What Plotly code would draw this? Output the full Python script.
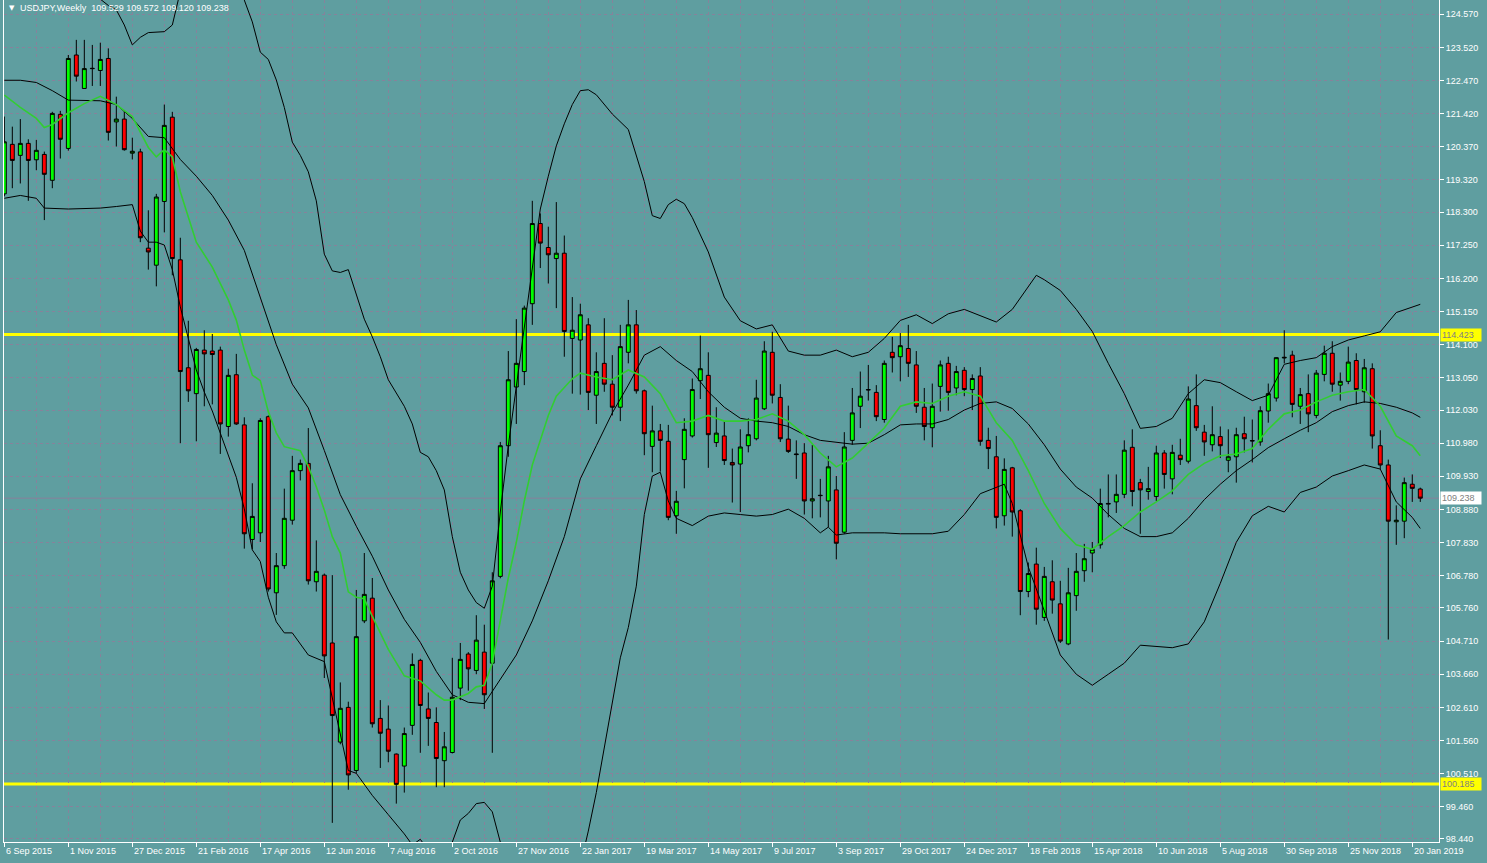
import pandas as pd
import plotly.graph_objects as go

# ---------------- data ----------------
title_text = "USDJPY,Weekly  109.529 109.572 109.120 109.238"
start_week = "2015-09-06"

opens = [118.88,120.45,120.10,120.48,119.96,120.13,119.31,121.40,120.32,123.28,
         122.22,122.86,122.79,123.17,121.16,121.25,120.17,120.21,117.16,116.62,
         118.64,121.31,116.79,113.37,112.55,113.93,113.90,113.93,111.51,113.15,
         111.56,107.93,108.14,111.82,106.24,107.10,108.54,110.11,110.34,106.59,
         106.80,104.65,101.51,102.61,100.61,105.35,106.07,102.26,101.92,101.13,
         100.75,102.04,104.10,102.56,102.13,100.92,101.18,103.22,104.30,103.78,
         104.36,104.01,106.76,110.90,112.76,113.25,115.40,117.94,117.18,116.83,
         117.00,114.30,114.25,114.73,112.50,113.51,112.85,112.12,113.86,114.73,
         112.64,110.88,111.37,111.04,108.68,110.46,111.21,112.96,113.13,111.00,
         111.21,110.37,110.32,110.90,111.12,112.07,113.86,112.43,111.11,110.64,
         110.67,109.15,109.33,109.15,109.50,108.16,111.07,112.15,112.68,112.59,
         111.73,113.86,113.72,113.98,113.46,112.12,111.47,112.78,113.51,112.73,
         113.29,112.68,113.11,111.07,110.55,108.68,110.20,108.84,106.28,107.15,
         105.46,106.59,105.89,104.62,106.15,106.94,107.50,107.76,109.05,109.12,
         109.36,110.85,109.73,109.45,109.29,110.67,109.85,110.60,110.41,112.17,
         111.33,110.93,111.19,110.44,110.55,111.28,111.05,111.02,112.00,112.41,
         113.68,113.77,112.15,112.55,111.86,113.16,113.83,112.82,112.94,113.60,
         112.61,113.34,110.90,110.29,108.49,108.51,109.68,109.529]

highs = [121.33,121.01,121.25,120.61,120.59,120.22,121.48,121.51,123.28,123.76,
         123.76,123.60,123.67,123.49,121.96,121.51,120.66,120.31,118.36,118.88,
         121.71,121.48,117.49,114.86,114.00,114.56,114.44,114.04,113.34,113.81,
         111.80,109.71,111.77,111.86,107.50,109.54,110.58,110.46,111.46,107.90,
         106.85,106.80,103.40,102.79,106.33,107.50,106.71,102.84,102.67,101.15,
         101.97,104.32,104.15,103.08,102.61,101.83,104.18,104.65,104.36,105.53,
         105.23,106.89,111.02,113.90,114.91,115.34,118.66,118.26,117.84,118.62,
         117.56,115.61,115.40,114.94,113.86,114.94,113.77,114.73,115.52,115.20,
         112.68,112.17,111.59,111.56,109.47,111.77,113.03,114.39,113.86,112.12,
         111.68,110.81,111.42,111.77,112.99,114.21,114.51,112.85,112.17,111.07,
         110.98,110.93,109.85,110.58,109.94,111.33,112.73,113.25,113.46,112.82,
         113.60,114.35,114.47,114.73,113.90,112.73,112.87,113.60,113.72,113.43,
         113.39,113.16,113.39,111.47,111.21,110.50,110.23,108.89,107.20,107.67,
         107.06,107.27,106.62,107.03,107.50,107.79,107.85,109.54,109.99,109.99,
         111.07,111.42,109.85,110.23,110.90,110.76,110.93,111.12,112.78,113.16,
         111.56,112.15,111.51,111.42,111.47,111.82,111.73,112.15,112.87,113.70,
         114.56,113.91,112.73,113.16,113.30,114.07,114.21,113.22,114.04,113.83,
         113.65,113.51,111.39,110.46,109.01,109.89,109.99,109.572]

lows = [118.80,119.06,119.21,118.66,119.63,118.05,119.06,120.00,120.25,122.44,
        122.22,122.30,122.30,120.57,120.38,120.25,119.97,117.35,116.48,115.95,
        117.66,116.30,110.98,112.29,111.04,112.15,112.21,110.64,111.19,111.56,
        107.64,107.62,107.85,106.28,105.54,107.00,108.40,109.80,106.50,106.28,
        103.54,98.95,101.44,100.00,100.52,105.28,101.97,100.69,100.87,99.56,
        99.91,101.74,101.17,101.39,100.08,100.08,101.15,102.84,103.14,103.66,
        102.56,101.17,106.70,110.55,111.59,112.82,114.73,116.53,116.04,115.26,
        113.72,112.55,112.52,112.03,111.59,112.61,111.86,111.68,113.51,112.55,
        110.60,110.06,110.08,108.54,108.11,109.55,111.16,112.38,110.20,110.86,
        110.29,109.10,108.80,110.69,111.07,112.03,112.24,111.02,110.67,109.85,
        108.72,108.60,108.63,108.32,107.30,108.11,110.93,111.46,112.33,111.68,
        111.63,113.22,112.94,113.08,111.94,111.07,110.85,111.98,112.01,112.50,
        112.47,112.03,110.90,110.16,108.28,108.37,108.02,105.53,106.10,105.23,
        105.35,105.58,104.65,104.58,105.67,106.59,106.89,107.64,108.63,108.77,
        109.24,108.98,108.11,109.19,109.15,109.54,109.36,110.29,110.34,111.37,
        110.58,110.72,110.51,110.06,109.73,110.69,110.37,110.90,111.63,112.30,
        113.51,111.80,111.59,111.33,111.77,112.94,112.61,112.33,112.85,112.21,
        112.26,110.81,110.16,104.76,107.76,107.97,109.12,109.120]

closes = [120.53,119.94,120.48,119.94,120.26,119.50,121.43,120.61,123.17,122.61,
          122.85,122.85,123.14,120.83,121.25,120.28,120.23,117.49,117.04,118.78,
          121.05,116.83,113.25,112.64,113.95,113.81,113.79,111.59,113.13,111.59,
          108.11,108.66,111.70,106.36,107.10,108.60,110.11,110.34,106.62,106.92,
          104.24,102.35,102.58,100.47,104.85,106.19,102.09,101.79,101.22,100.17,
          101.78,103.97,102.67,102.26,100.99,101.36,102.93,104.13,103.83,104.74,
          103.01,106.62,110.90,112.99,113.51,115.26,117.94,117.32,116.95,117.00,
          114.52,114.56,115.05,112.59,113.25,112.85,112.12,114.04,114.73,112.64,
          111.28,111.37,111.07,108.63,109.14,111.42,112.68,113.34,111.25,111.30,
          110.43,110.29,110.86,111.25,112.41,113.90,112.50,111.12,110.72,110.62,
          109.15,109.22,109.32,110.23,107.81,110.86,111.94,112.47,112.67,111.82,
          113.51,113.69,114.07,113.51,112.15,111.51,112.15,113.46,112.59,113.25,
          112.68,113.03,111.04,110.81,108.63,110.15,108.80,106.28,106.85,105.72,
          106.76,106.01,104.71,106.24,106.92,107.32,107.62,109.07,109.07,109.36,
          110.76,109.45,109.50,109.54,110.67,109.99,110.69,110.46,112.38,111.47,
          111.02,111.25,110.90,110.55,111.25,111.12,111.06,112.01,112.55,113.69,
          113.70,112.21,112.52,111.91,113.20,113.83,112.85,112.94,113.55,112.68,
          113.37,111.21,110.29,108.51,108.54,109.73,109.55,109.238]

# Bollinger band upper (week index -> value)
bb_upper_weeks = [0,4,8,10,12,13,14,15,16,17,18,19,20,21,22,24,26,28,30,31,32,33,34,35,
                  36,37,38,39,40,41,42,43,44,45,46,47,48,49,50,51,52,53,54,55,56,57,58,59,60,61,
                  62,63,64,65,66,67,68,69,70,71,72,73,74,76,78,80,81,82,83,84,85,86,88,90,92,94,96,98,
                  100,102,104,106,108,110,112,114,116,118,120,122,124,126,128,129,130,132,134,136,
                  138,140,142,144,146,148,150,152,154,156,158,160,162,164,166,168,170,172,174,176,177]
bb_upper = [126.2,126.1,125.6,125.4,125.05,124.85,124.71,124.23,123.60,123.84,123.99,124.00,124.02,124.23,125.3,125.9,125.9,125.6,125.02,124.33,123.37,123.14,122.49,121.62,
            120.52,120.10,119.58,118.66,116.97,116.44,116.39,116.48,115.69,114.91,114.35,113.72,112.99,112.55,112.15,111.59,110.69,110.55,110.11,109.50,108.02,106.89,106.33,105.93,105.75,106.45,
            108.80,110.90,112.82,114.56,116.65,118.40,119.44,120.40,121.10,121.71,122.15,122.18,122.02,121.41,120.92,119.27,118.19,118.10,118.54,118.71,118.57,118.13,117.04,115.61,114.86,114.60,114.73,113.90,
            113.77,113.77,113.93,113.72,113.86,114.30,114.87,115.05,114.77,115.08,115.22,115.03,114.82,115.22,115.95,116.30,116.16,115.82,115.22,114.52,
            113.51,112.55,111.45,111.51,111.77,112.55,112.99,112.90,112.61,112.33,112.50,113.48,113.60,113.69,114.04,114.25,114.38,114.51,115.12,115.29,115.38]

# Bollinger band middle
bb_mid_weeks = list(range(0, 177, 2)) + [177]
bb_mid = [122.48,122.48,122.41,122.15,121.85,121.85,121.83,121.71,121.27,120.70,
          120.66,119.97,119.44,118.83,118.05,117.09,115.61,114.10,112.85,112.10,
          110.75,109.35,108.35,107.40,106.33,105.40,104.67,103.75,103.01,102.77,
          102.73,103.49,104.27,105.35,106.62,108.02,109.85,110.90,111.94,112.82,
          113.77,114.04,113.60,113.25,112.61,112.12,111.77,111.68,111.63,111.51,
          111.25,111.07,111.02,110.95,110.98,111.25,111.56,111.59,111.59,111.73,
          112.03,112.24,112.29,112.08,111.59,110.93,110.16,109.59,109.24,108.72,
          108.28,108.02,108.02,108.14,108.60,109.19,109.68,110.11,110.46,110.84,
          111.12,111.39,111.63,111.98,112.17,112.29,112.24,112.12,111.94,111.80]

# Bollinger band lower
bb_lower_weeks = [0,2,4,5,8,12,14,16,17,18,19,20,21,22,23,24,25,26,27,28,29,30,31,32,33,34,35,
                  36,38,40,42,43,44,46,48,50,51,52,53,54,55,56,57,58,59,60,61,62,63,64,66,68,70,71,72,
                  73,74,75,76,77,78,79,80,81,82,83,84,86,88,90,92,94,96,98,100,102,103,104,106,
                  108,110,112,114,116,118,120,122,124,125,126,127,128,130,132,134,136,138,140,142,
                  144,146,148,150,152,154,156,158,160,162,164,166,168,170,172,174,176,177]
bb_lower = [118.74,118.83,118.74,118.43,118.40,118.43,118.48,118.54,117.70,117.35,117.35,117.26,116.48,115.3,114.3,113.3,112.6,112.0,111.3,110.6,109.9,108.9,107.6,107.23,106.10,105.32,104.97,
            104.97,104.27,104.06,101.83,100.61,100.52,99.82,99.21,98.60,98.25,98.43,98.08,97.64,97.82,98.34,99.04,99.25,99.56,99.60,99.30,98.34,97.1,95.7,94.1,93.8,94.9,96.4,97.6,
            98.69,99.91,101.30,102.79,104.18,105.14,106.45,108.72,109.94,110.06,109.15,108.60,108.37,108.67,108.77,108.72,108.67,108.72,108.89,108.60,108.14,108.32,108.07,108.14,
            108.14,108.14,108.11,108.11,108.11,108.19,108.72,109.38,109.59,109.68,109.07,108.11,107.06,105.67,104.27,103.66,103.31,103.66,104.01,104.58,
            104.53,104.50,104.62,105.32,106.54,107.84,108.68,108.98,108.80,109.42,109.59,109.94,110.11,110.29,110.16,109.12,108.63,108.28]

# Moving average (green)
ma_weeks = [0,2,4,5,6,8,10,12,14,16,18,19,20,21,22,24,26,28,29,30,31,32,33,34,35,36,37,38,39,40,41,
            42,43,44,45,46,48,50,52,54,55,56,58,59,60,61,62,63,64,65,66,67,68,69,70,71,72,74,76,78,
            80,82,84,86,88,90,92,94,96,98,100,102,104,106,108,110,112,114,116,118,120,122,124,126,128,
            130,132,134,136,138,140,142,144,146,148,150,152,154,156,158,160,162,164,166,168,170,172,174,176,177]
ma = [122.01,121.62,121.27,120.98,121.08,121.45,121.74,121.97,121.71,121.33,120.35,120.05,120.28,120.05,118.95,117.35,116.56,115.52,114.88,113.93,113.14,112.96,111.98,111.31,110.87,110.80,110.74,110.24,109.60,108.86,108.02,
      107.50,106.27,106.10,106.05,105.49,104.45,103.61,103.45,103.01,102.84,102.84,103.05,103.26,103.31,104.01,105.40,106.71,107.84,109.15,110.29,111.07,111.86,112.47,112.73,113.02,113.20,113.08,112.99,113.30,
      113.08,112.55,111.63,111.68,111.86,111.68,111.68,111.73,111.91,111.68,111.25,110.67,110.23,110.51,110.98,111.46,112.15,112.29,112.24,112.47,112.61,112.47,111.63,111.07,110.11,
      109.07,108.28,107.76,107.62,108.02,108.37,108.80,109.12,109.47,109.99,110.34,110.58,110.64,110.81,111.42,111.91,112.03,112.29,112.50,112.61,112.68,112.15,111.21,110.90,110.58]

level_lines = [114.423, 100.185]
bid_price = 109.238

price_ticks = [124.570, 123.520, 122.470, 121.420, 120.370, 119.320, 118.300, 117.250,
               116.200, 115.150, 114.100, 113.050, 112.030, 110.980, 109.930, 108.880,
               107.830, 106.780, 105.760, 104.710, 103.660, 102.610, 101.560, 100.510,
               99.460, 98.440]

# ---------------- styling ----------------
BG = "#5F9EA0"
GRID = "rgb(135,130,155)"
FONT = "Liberation Sans, Arial, sans-serif"

start = pd.Timestamp(start_week)
dates = [start + pd.Timedelta(weeks=i) for i in range(len(opens))]


def wk(ks):
    return [dates[k] for k in ks]


fig = go.Figure()
fig.add_trace(go.Candlestick(
    x=dates, open=opens, high=highs, low=lows, close=closes,
    increasing=dict(line=dict(color="black", width=1), fillcolor="#00FF00"),
    decreasing=dict(line=dict(color="black", width=1), fillcolor="#FF0000"),
    whiskerwidth=0, hoverinfo="skip", showlegend=False))

for xs, ys in [(bb_upper_weeks, bb_upper), (bb_mid_weeks, bb_mid), (bb_lower_weeks, bb_lower)]:
    fig.add_trace(go.Scatter(x=wk(xs), y=ys, mode="lines",
                             line=dict(color="black", width=1),
                             hoverinfo="skip", showlegend=False))
fig.add_trace(go.Scatter(x=wk(ma_weeks), y=ma, mode="lines",
                         line=dict(color="rgb(50,205,50)", width=1.6),
                         hoverinfo="skip", showlegend=False))

shapes = [dict(type="line", xref="paper", x0=0, x1=1, yref="y", y0=bid_price, y1=bid_price,
               line=dict(color=GRID, width=1), layer="below")]
for lv in level_lines:
    shapes.append(dict(type="line", xref="paper", x0=0, x1=1, yref="y", y0=lv, y1=lv,
                       line=dict(color="#FFFF00", width=3), layer="below"))

annotations = []
label_dates = dates[::8]
for d in label_dates:
    annotations.append(dict(x=d, xref="x", y=0, yref="paper", xanchor="left", yanchor="top",
                            yshift=-2, showarrow=False,
                            text=f"{d.day} {d.strftime('%b %Y')}",
                            font=dict(color="white", size=9, family=FONT)))
for lv in level_lines:
    annotations.append(dict(x=1, xref="paper", y=lv, yref="y", xanchor="left", yanchor="middle",
                            xshift=1, showarrow=False, text=f"{lv:.3f}", bgcolor="#FFFF00",
                            borderpad=1, width=38, align="left",
                            font=dict(color="#808080", size=9, family=FONT)))
annotations.append(dict(x=1, xref="paper", y=bid_price, yref="y", xanchor="left", yanchor="middle",
                        xshift=1, showarrow=False, text=f"{bid_price:.3f}", bgcolor="white",
                        borderpad=1, width=38, align="left",
                        font=dict(color="#808080", size=9, family=FONT)))
annotations.append(dict(x=0, xref="paper", y=1, yref="paper", xanchor="left", yanchor="top",
                        xshift=3, yshift=-2, showarrow=False, text="▼",
                        font=dict(color="white", size=7, family="DejaVu Sans")))
annotations.append(dict(x=0, xref="paper", y=1, yref="paper", xanchor="left", yanchor="top",
                        xshift=14, yshift=-1, showarrow=False, text=title_text,
                        font=dict(color="white", size=9, family=FONT)))

x_lo = start + pd.Timedelta(weeks=-0.04)
x_hi = start + pd.Timedelta(weeks=179.34)

fig.update_layout(
    width=1487, height=863,
    margin=dict(l=4, r=48, t=0, b=21, pad=0),
    paper_bgcolor=BG, plot_bgcolor=BG,
    font=dict(family=FONT, size=9, color="white"),
    showlegend=False,
    shapes=shapes, annotations=annotations,
    xaxis=dict(type="date", range=[x_lo, x_hi], tickvals=label_dates, showticklabels=False,
               ticks="outside", ticklen=4, tickcolor="white",
               showgrid=True, gridcolor=GRID, griddash="3px,3px", gridwidth=1,
               minor=dict(tickvals=dates[4::8], showgrid=True, gridcolor=GRID,
                          griddash="3px,3px", ticks=""),
               showline=True, linecolor="white", linewidth=1, zeroline=False,
               rangeslider=dict(visible=False), fixedrange=True),
    yaxis=dict(side="right", range=[98.344, 125.023], tickvals=price_ticks,
               ticktext=[f"{v:.3f}" for v in price_ticks],
               tickfont=dict(color="white", size=9, family=FONT),
               ticks="outside", ticklen=4, tickcolor="white",
               showgrid=True, gridcolor=GRID, griddash="3px,3px", gridwidth=1,
               showline=True, linecolor="white", linewidth=1, mirror=True,
               zeroline=False, fixedrange=True),
)

fig.write_html("out.html", config={"displayModeBar": False},
               post_script="document.body.style.margin='0';document.body.style.overflow='hidden';")
